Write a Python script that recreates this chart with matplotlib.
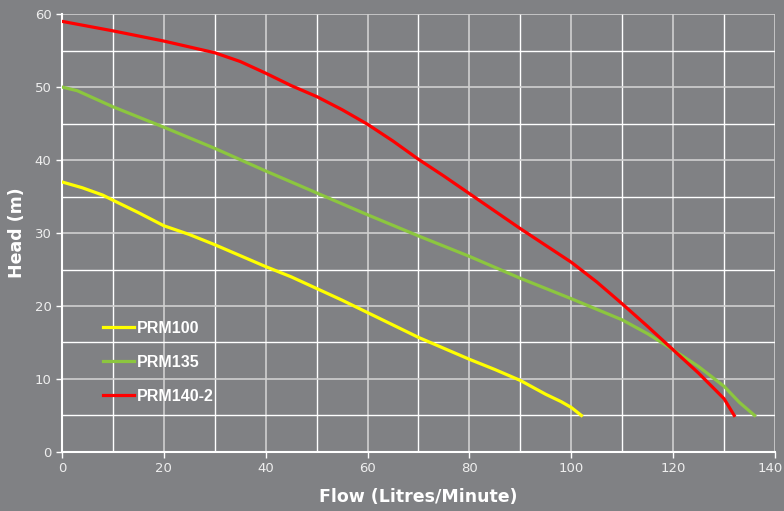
import matplotlib
matplotlib.use('Agg')
import matplotlib.pyplot as plt
import matplotlib.transforms as mtransforms

# pump curves
prm100_flow = [0, 4, 8, 10, 15, 20, 25, 30, 35, 40, 45, 50, 55, 60, 65, 70, 75, 80, 85, 90, 95, 98, 100, 102]
prm100_head = [37, 36.2, 35.2, 34.5, 32.8, 31.0, 29.8, 28.4, 26.9, 25.4, 24.0, 22.4, 20.8, 19.1, 17.4, 15.7, 14.2, 12.7, 11.3, 9.8, 7.9, 6.9, 6.1, 5.0]

prm135_flow = [0, 3, 10, 20, 30, 40, 50, 60, 70, 80, 90, 100, 110, 115, 120, 125, 130, 133, 136]
prm135_head = [50, 49.5, 47.3, 44.5, 41.6, 38.5, 35.5, 32.5, 29.6, 26.8, 23.8, 21.0, 18.1, 16.2, 14.0, 11.7, 9.0, 6.8, 5.0]

prm140_flow = [0, 10, 20, 25, 30, 35, 40, 45, 50, 55, 60, 65, 70, 75, 80, 85, 90, 95, 100, 105, 110, 115, 120, 125, 130, 132]
prm140_head = [59, 57.7, 56.3, 55.5, 54.7, 53.5, 51.9, 50.2, 48.7, 46.9, 44.9, 42.6, 40.1, 37.8, 35.4, 33.0, 30.6, 28.3, 26.0, 23.3, 20.3, 17.2, 14.0, 10.8, 7.3, 5.0]

bg = '#808184'
fig = plt.figure(figsize=(7.84, 5.11), dpi=100, facecolor=bg)
ax = fig.add_axes([0.079, 0.1155, 0.9095, 0.857])
ax.set_facecolor(bg)

ax.plot(prm100_flow, prm100_head, color='#ffff00', lw=2.3, label='PRM100', zorder=3, solid_joinstyle='round')
ax.plot(prm135_flow, prm135_head, color='#8cc63f', lw=2.3, label='PRM135', zorder=3, solid_joinstyle='round')
ax.plot(prm140_flow, prm140_head, color='#ff0000', lw=2.3, label='PRM140-2', zorder=4, solid_joinstyle='round')

ax.set_xlim(0, 140)
ax.set_ylim(0, 60)
ax.set_xticks(range(0, 141, 20))
ax.set_yticks(range(0, 61, 10))
ax.set_xticks(range(10, 141, 20), minor=True)
ax.set_yticks(range(5, 61, 10), minor=True)
ax.grid(which='major', color='#d0d0d0', lw=1.2)
ax.grid(which='minor', color='white', lw=1.0)
ax.tick_params(which='minor', length=0)
ax.tick_params(which='major', colors='white', labelcolor='#eeeeee', labelsize=9.5, length=4, width=1)

# last x label sits right at the figure edge, nudge it in a little
last = ax.get_xticklabels()[-1]
last.set_transform(last.get_transform() + mtransforms.ScaledTranslation(-5 / 100, 0, fig.dpi_scale_trans))

for s in ['top', 'right']:
    ax.spines[s].set_visible(False)
for s in ['left', 'bottom']:
    ax.spines[s].set_color('white')
    ax.spines[s].set_linewidth(1.5)

ax.set_xlabel('Flow (Litres/Minute)', color='white', fontsize=12.5, fontweight='bold', labelpad=9)
ax.set_ylabel('Head (m)', color='white', fontsize=12.5, fontweight='bold', labelpad=6)

leg = ax.legend(loc='lower left', bbox_to_anchor=(0.037, 0.077), frameon=False,
                handlelength=1.95, labelspacing=1.2, handletextpad=0.2,
                prop={'family': 'Liberation Sans', 'weight': 'bold', 'size': 11.5})
for t in leg.get_texts():
    t.set_color('white')

fig.savefig('out.png', dpi=100, facecolor=bg)
